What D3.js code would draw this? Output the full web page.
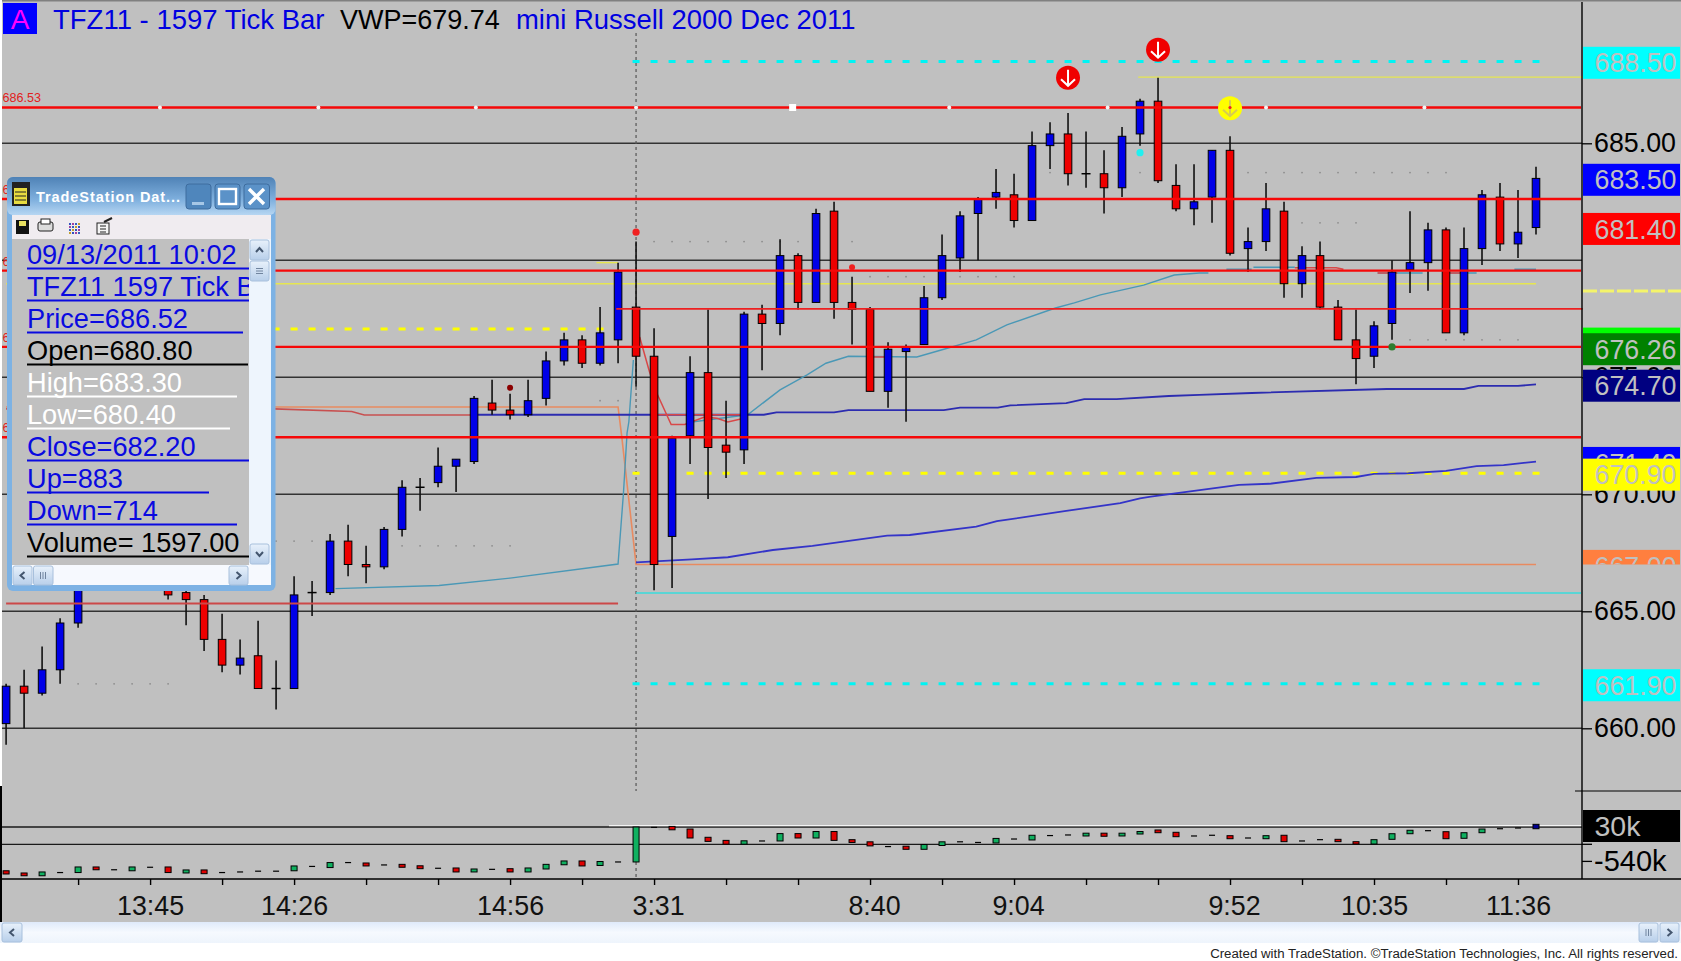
<!DOCTYPE html>
<html><head><meta charset="utf-8">
<script src="https://cdn.jsdelivr.net/npm/d3@7/dist/d3.min.js"></script>
<style>html,body{margin:0;padding:0;background:#fff;overflow:hidden}svg{display:block}text{font-family:"Liberation Sans",Arial,sans-serif}</style>
</head><body><div id="chart"></div>
<script>
// ---- price bars ----
const opens=[660.2,661.8,661.5,662.5,664.5,666.5,667.3,667,667.4,666.2,665.8,665.5,663.8,662.7,663.1,661.7,661.7,665.8,665.8,668,667,666.9,668.5,670.3,670.5,671.2,671.4,673.9,673.6,673.4,674.1,675.7,676.6,675.6,676.6,678,675.9,668.2,672.5,675.2,672.1,671.9,677.7,677.3,680.2,678.2,682.1,678.2,677.9,674.4,676.1,676.4,678.4,680.1,682,682.7,682.8,681.7,684.9,685.4,683.7,683.7,683.1,685.4,686.8,683.2,682.2,682.7,684.7,680.5,680.8,682.1,679,680.2,678,676.6,675.9,677.3,679.6,679.9,681.3,676.9,680.5,682.7,680.7,681.4];
const closes=[661.8,661.5,662.5,664.5,666.5,667.3,667,667.4,666.9,665.7,665.5,663.8,662.7,663,661.7,661.7,665.7,665.8,668,667,666.9,668.5,670.3,670.3,671.2,671.5,674.1,673.6,673.4,674,675.7,676.6,675.6,676.9,679.5,675.9,667,672.4,675.2,672,671.8,677.7,677.3,680.2,678.2,682,678.2,677.9,674.4,676.2,676.3,678.4,680.2,681.9,682.6,682.9,681.7,684.9,685.4,683.7,683.7,683.1,685.3,686.8,683.4,682.2,682.5,684.7,680.3,680.8,682.2,679,680.2,678,676.6,675.8,677.2,679.5,679.9,681.3,676.9,680.5,682.8,680.7,681.2,683.5];
const highs=[661.9,662.5,663.5,664.7,666.6,667.5,667.9,667.7,667.6,666.4,666,665.7,664.9,663.8,664.6,662.9,666.5,666.3,668.3,668.7,667.8,668.6,670.6,670.7,672,671.5,674.2,674.9,674.3,674.9,676.1,676.9,676.8,678,679.9,680.8,677.1,672.5,675.9,677.9,674,677.8,678.1,680.9,680.3,682.2,682.5,679.3,678,676.5,676.4,678.9,681.1,682.1,682.7,683.9,683.7,685.5,685.9,686.3,685.5,684.7,685.7,686.9,687.8,684.1,684.1,684.7,685.3,681.4,683.3,682.5,680.6,680.8,678.3,677.9,677.4,680,682.1,681.6,681.4,681.4,683,683.3,683,684];
const lows=[659.3,660,661.4,661.9,664.3,666.3,665.9,666.5,666.5,665.5,664.4,663.3,662.4,662.3,661.7,660.8,661.7,664.8,665.7,666.5,666.2,666.8,668.2,669.3,670.3,670.1,671.3,673.4,673.2,673.3,673.8,675.5,675.4,675.5,675.6,674.6,665.9,666,671.3,669.8,670.7,671.3,675.3,676.8,677.9,678.2,677.5,676.4,674.4,673.7,673.1,676.4,678.3,679.5,680,682.2,681.4,681.7,683.9,683.2,683.1,682,682.7,684.9,683.3,682.1,681.5,681.6,680.2,679.5,680.4,678.4,678.4,677.9,676.6,674.7,675.4,676.6,678.6,678.7,676.9,676.8,679.8,680.4,680.1,681.1];
// ---- lower panel (value in k) ----
const subTop=[-706,-743,-726,-736,-642,-642,-689,-642,-647,-642,-692,-692,-736,-726,-713,-713,-625,-633,-568,-568,-575,-608,-598,-622,-664,-659,-676,-682,-671,-659,-598,-541,-541,-550,-558,30,23,40,-4,-143,-195,-202,-205,-81,-81,-46,-46,-183,-219,-299,-293,-264,-219,-219,-230,-162,-172,-109,-114,-104,-74,-74,-74,-46,-20,-59,-121,-109,-116,-155,-116,-109,-205,-183,-177,-217,-183,-83,-25,-32,-49,-66,-4,1,13,75];
const subBot=[-760,-790,-790,-736,-736,-689,-689,-706,-647,-736,-743,-755,-736,-726,-713,-713,-706,-633,-652,-568,-625,-608,-647,-671,-664,-726,-726,-682,-726,-726,-676,-605,-625,-617,-558,-558,23,-17,-155,-212,-259,-259,-205,-205,-155,-155,-195,-230,-288,-299,-345,-345,-281,-219,-230,-239,-172,-188,-114,-104,-121,-126,-121,-88,-66,-133,-121,-109,-167,-155,-167,-217,-205,-183,-217,-256,-256,-177,-83,-32,-167,-160,-66,1,13,1];
const subKind="rrgkgrkgkrgrkkkkgkgkrkrrkrgkrgggrgkgkrrrrgkgrgrrrkrggkkgkgkkgrggrrkkrkgrkkrrgggkrggkkb".split("");
const subLevels=[30,-261];
const subTicks=[-540];
// ---- axes ----
const priceGrid=[685,680,675,670,665,660];
const priceTicks=[685,675,670,665,660];
const timeTicks=[4,8,12,16,20,24,28,32,36,40,44,48,52,56,60,64,68,72,76,80,84];
const timeLabels={8:"13:45",16:"14:26",28:"14:56",36:"3:31",48:"8:40",56:"9:04",68:"9:52",76:"10:35",84:"11:36"};
// ---- horizontal levels ----
const heavyRed=[686.53,682.62,679.56,676.3,672.44];
const heavyLabels=["686.53","682.62","679.56","676.30","672.44"];
const whiteDotIdx=[8.55,17.35,26.1,35,43.7,52.4,61.2,70,78.8];
const thinRed=[[33.9,87.6,677.92]];
const oldRed=[[0,34,665.33]];
const yellowSolid=[[0,85,679],[32.8,34,679.9],[62.9,87.6,687.83]];
const cyanSolid=[[35,87.5,665.78]];
const yellowDash=[[15,34,677.06],[35,85,670.9]];
const cyanDash=[[35,85,688.5],[35,85,661.9]];
// ---- curves: [bar index, price]; NaN marks a gap ----
const navyIdx=[26.2,42.1,42.8,46,46.8,52.1,53,55.1,55.8,58.9,59.9,61.7,64.6,66.3,69.2,76.7,81,81.8,84,85];
const navyVal=[673.4,673.4,673.5,673.5,673.6,673.6,673.7,673.7,673.8,673.9,674.07,674.07,674.2,674.25,674.33,674.5,674.5,674.63,674.63,674.7];
const lowerIdx=[35,38.1,40.1,42.6,44.8,48.95,50.2,53.9,55.05,58.9,61.9,63,63.6,66,68.5,70.2,72.8,75,76,77.9,80,81.7,83.2,85];
const lowerVal=[667.09,667.22,667.31,667.62,667.8,668.23,668.26,668.62,668.85,669.29,669.62,669.83,669.9,670.15,670.4,670.45,670.7,670.74,670.87,670.9,671,671.2,671.25,671.4];
const tealIdx=[18.3,24.05,28,34,34.3,34.5,34.6,34.85,NaN,38.2,41.2,43,44.5,45.55,46.8,50.6,52.1,53.9,55.6,58.3,59.35,60.8,63.2,64.9,66.3,66.8,NaN,67.8,69.2,NaN,69.3,71.6,NaN,76.2,78.7,NaN,80.2,81.7,NaN,83.8,85];
const tealVal=[665.97,666.1,666.42,667.02,670.05,672.62,673.1,675.74,NaN,673.1,673.4,674.46,675.1,675.6,675.9,675.87,676.2,676.6,677.24,677.96,678.18,678.52,678.94,679.37,679.46,679.46,NaN,679.62,679.62,NaN,679.7,679.7,NaN,679.46,679.46,NaN,679.46,679.46,NaN,679.62,679.62];
const redCurveIdx=[35.2,35.75,36.2,36.95,37.7,38.8,39.5,40.1,41,NaN,36.2,41,NaN,47.9,48.9,NaN,71.6,73.9,74.3,NaN,76.2,77.3,NaN,80.2,80.9];
const redCurveVal=[676.72,675.23,674.24,672.98,672.98,673.3,673.25,673.09,673.25,NaN,673.4,673.4,NaN,675.87,675.87,NaN,679.68,679.68,679.62,NaN,679.46,679.46,NaN,679.46,679.46];
const oldRedCurveIdx=[0,14.9,19.2,19.9,26.2];
const oldRedCurveVal=[673.65,673.65,673.54,673.39,673.39];
const orangeIdx=[0,34,34.2,35,85];
const orangeVal=[673.73,673.73,672.5,667,667];
// ---- dotted rows: [from bar, to bar, price] ----
const dotRows=[[14,17,668],[22,28,667.8],[4,9,661.9],[33,35,674],[36,47,680.8],[48,56,679.3],[58,58,683.75],[63,63,683.75],[69,80,683.75],[71,75,681.6],[78,84,676.6]];
// ---- markers: bar index and price ----
const downArrows=[[59,687.8,"#f00000","#ffffff"],[64,689,"#f00000","#ffffff"],[68,686.5,"#ffff00","#d8cc50"]];
const dots=[[35,681.2,3.6,"#f02020"],[28,674.55,3,"#8b0000"],[47,679.7,3,"#f02020"],[63,684.6,3.6,"#20f0f0"],[77,676.3,3.6,"#2e7d2e"]];
const topDots=[[68,686.53,1.6,"#f02020"]];
// ---- right-hand price flags (value, fill) ----
const flagVal=[688.5,683.5,681.4,676.5,676.26,674.7,671.4,670.9,661.9];
const flagFill=["#00ffff","#0000ff","#ff0000","#00ff00","#008000","#000080","#0000ff","#ffff00","#00ffff"];
// ---- data window rows ----
const rowText=["09/13/2011 10:02","TFZ11 1597 Tick Bar","Price=686.52","Open=680.80","High=683.30","Low=680.40","Close=682.20","Up=883","Down=714","Volume=  1597.00"];
const rowColor=["#0a0ae0","#0a0ae0","#0a0ae0","#000","#fff","#fff","#0a0ae0","#0a0ae0","#0a0ae0","#000"];
const rowRule=[222,222,216,221,210,203,222,182,210,222];

const W=1681,H=961,axisX=1582;
const x=d3.scaleLinear().domain([0,85]).range([6.1,1536]);
const y=d3.scaleLinear().domain([685,660]).range([143.3,728.3]);
const ys=d3.scaleLinear().domain([30,-540]).range([827,860.9]);
const svg=d3.select("#chart").append("svg").attr("width",W).attr("height",H).attr("viewBox",[0,0,W,H]);
const defs=svg.append("defs");
function grad(id,stops){const g=defs.append("linearGradient").attr("id",id).attr("x1",0).attr("x2",0).attr("y1",0).attr("y2",1);
 stops.forEach(s=>g.append("stop").attr("offset",s[0]).attr("stop-color",s[1]));}
grad("bar",[[0,"#dfeafa"],[.5,"#f6f9fe"],[1,"#eef4fc"]]);
grad("ttl",[[0,"#4f82b6"],[.6,"#7fb0de"],[1,"#b6d6f2"]]);
grad("btn",[[0,"#e8f1fb"],[1,"#b8cfea"]]);
defs.append("clipPath").attr("id","rowClip").append("rect").attr("x",18).attr("y",240).attr("width",231).attr("height",324);
defs.append("clipPath").attr("id","orClip").append("rect").attr("x",axisX).attr("y",545).attr("width",100).attr("height",19.5);
const lineGen=d3.line().defined(d=>!isNaN(d[0])).x(d=>x(d[0])).y(d=>y(d[1]));
const ln=(a,b)=>lineGen(a.map((v,i)=>[v,b[i]]));

svg.append("rect").attr("width",W).attr("height",H).attr("fill","#fff");
svg.append("rect").attr("x",2).attr("y",0).attr("width",W-2).attr("height",922).attr("fill","#c0c0c0");
svg.append("rect").attr("x",2).attr("y",0).attr("width",W-2).attr("height",1.5).attr("fill","#808080");
svg.append("rect").attr("x",0).attr("y",786).attr("width",2).attr("height",136).attr("fill","#000");

// grid
svg.append("g").selectAll("line").data(priceGrid).join("line").attr("x1",2).attr("x2",axisX).attr("y1",d=>y(d)).attr("y2",d=>y(d)).attr("stroke","#333").attr("stroke-width",1.5);
svg.append("g").selectAll("line").data(subLevels).join("line").attr("x1",2).attr("x2",axisX).attr("y1",d=>ys(d)).attr("y2",d=>ys(d)).attr("stroke","#1a1a1a").attr("stroke-width",1.3);
svg.append("line").attr("x1",x(33.5)).attr("x2",axisX).attr("y1",ys(30)-1.4).attr("y2",ys(30)-1.4).attr("stroke","#f4f4f4").attr("stroke-width",1.3);

// session divider
const divider=svg.append("g").attr("stroke","#555").attr("stroke-width",1.2).attr("stroke-dasharray","3 3");
divider.append("line").attr("x1",x(35)).attr("x2",x(35)).attr("y1",33).attr("y2",791);
divider.append("line").attr("x1",x(35)).attr("x2",x(35)).attr("y1",862).attr("y2",879);

// thin levels and curves under bars
function seg(arr,color,w,dash){svg.append("g").selectAll("line").data(arr).join("line")
 .attr("x1",d=>x(d[0])-(dash?3.5:0)).attr("x2",d=>x(d[1])+(dash?3.5:0)).attr("y1",d=>y(d[2])).attr("y2",d=>y(d[2]))
 .attr("stroke",color).attr("stroke-width",w).attr("stroke-dasharray",dash||null);}
seg(yellowSolid,"#e6e650",1.4);
seg(cyanSolid,"#38dcdc",1.6);
seg(yellowDash,"#ffff00",3,"7 11");
seg(cyanDash,"#00f4f4",3,"7 11");
function curve(a,b,color,w){svg.append("path").attr("d",ln(a,b)).attr("fill","none").attr("stroke",color).attr("stroke-width",w);}
curve(oldRedCurveIdx,oldRedCurveVal,"#c85050",1.6);
curve(orangeIdx,orangeVal,"#e88a60",1.6);
curve(tealIdx,tealVal,"#4a98b6",1.4);
curve(navyIdx,navyVal,"#2c2cb0",1.8);
curve(lowerIdx,lowerVal,"#3434c8",1.8);
curve(redCurveIdx,redCurveVal,"#d84848",1.5);

// grey dots
const dotData=dotRows.flatMap(r=>d3.range(r[0],r[1]+1).map(i=>[i,r[2]]));
svg.append("g").selectAll("circle").data(dotData).join("circle").attr("cx",d=>x(d[0])).attr("cy",d=>y(d[1])).attr("r",.9).attr("fill","#8c8c8c");

// candles
const idx=d3.range(opens.length);
const cg=svg.append("g");
cg.selectAll("line.w").data(idx).join("line").attr("class","w").attr("x1",i=>x(i)).attr("x2",i=>x(i)).attr("y1",i=>y(highs[i])).attr("y2",i=>y(lows[i])).attr("stroke","#111").attr("stroke-width",1.6);
cg.selectAll("rect").data(idx.filter(i=>opens[i]!==closes[i])).join("rect")
 .attr("x",i=>x(i)-3.8).attr("width",7.6)
 .attr("y",i=>y(Math.max(opens[i],closes[i]))).attr("height",i=>Math.abs(y(opens[i])-y(closes[i])))
 .attr("fill",i=>closes[i]>opens[i]?"#0000e8":"#ee0000").attr("stroke","#000").attr("stroke-width",1);
cg.selectAll("line.d").data(idx.filter(i=>opens[i]===closes[i])).join("line").attr("class","d")
 .attr("x1",i=>x(i)-4.5).attr("x2",i=>x(i)+4.5).attr("y1",i=>y(opens[i])).attr("y2",i=>y(opens[i])).attr("stroke","#000").attr("stroke-width",1.5);

// red levels above bars
svg.append("g").selectAll("line").data(heavyRed).join("line").attr("x1",2).attr("x2",axisX-1).attr("y1",d=>y(d)).attr("y2",d=>y(d)).attr("stroke","#f60808").attr("stroke-width",2.4);
seg(thinRed,"#ee2020",1.7);
seg(oldRed,"#cc4848",2);
svg.append("g").selectAll("text").data(heavyRed).join("text").attr("x",2.5).attr("y",d=>y(d)-5).attr("font-size",12.6).attr("fill","#e02020").text((d,i)=>heavyLabels[i]);
svg.append("g").selectAll("circle").data(whiteDotIdx).join("circle").attr("cx",d=>x(d)).attr("cy",y(686.53)).attr("r",d=>d===43.7?0:2).attr("fill","#f4f4f4");
svg.selectAll("rect.sq").data(whiteDotIdx.filter(d=>d===43.7)).join("rect").attr("class","sq").attr("x",d=>x(d)-3.5).attr("y",y(686.53)-3.5).attr("width",7).attr("height",7).attr("fill","#fff");

// markers
svg.append("g").selectAll("circle").data(dots).join("circle").attr("cx",d=>x(d[0])).attr("cy",d=>y(d[1])).attr("r",d=>d[2]).attr("fill",d=>d[3]);
const ag=svg.append("g").selectAll("g").data(downArrows).join("g").attr("transform",d=>`translate(${x(d[0])},${y(d[1])})`);
ag.append("circle").attr("r",12).attr("fill",d=>d[2]);
ag.append("path").attr("d","M0,-8V7.5M-7,1.5L0,8L7,1.5").attr("fill","none").attr("stroke",d=>d[3]).attr("stroke-width",2);
svg.append("g").selectAll("circle").data(topDots).join("circle").attr("cx",d=>x(d[0])).attr("cy",d=>y(d[1])).attr("r",d=>d[2]).attr("fill",d=>d[3]);

// lower panel
const kc={g:"#10b060",r:"#e00000",k:"#000",b:"#000090"};
const sg=svg.append("g");
sg.selectAll("rect").data(idx).join("rect")
 .attr("x",i=>x(i)-3).attr("width",6)
 .attr("y",i=>ys(subTop[i])-(subTop[i]===subBot[i]?.6:0))
 .attr("height",i=>Math.max(1.2,ys(subBot[i])-ys(subTop[i])))
 .attr("fill",i=>kc[subKind[i]]).attr("stroke",i=>subTop[i]===subBot[i]?"none":"#000").attr("stroke-width",1);

// axes
svg.append("line").attr("x1",axisX).attr("x2",axisX).attr("y1",2).attr("y2",879).attr("stroke","#000").attr("stroke-width",1.4);
svg.append("line").attr("x1",2).attr("x2",W).attr("y1",879).attr("y2",879).attr("stroke","#000").attr("stroke-width",1.4);
svg.append("line").attr("x1",1575).attr("x2",W).attr("y1",791).attr("y2",791).attr("stroke","#000").attr("stroke-width",1.2);
const xAxis=d3.axisBottom(x).tickValues(timeTicks).tickSize(6).tickPadding(11).tickFormat(d=>timeLabels[d]||"");
const gx=svg.append("g").attr("transform","translate(0,879)").call(xAxis);
gx.select(".domain").remove();
gx.selectAll("line").attr("stroke","#000").attr("stroke-width",1.4);
gx.selectAll("text").attr("font-size",26.8).attr("fill","#111").attr("font-family",'"Liberation Sans",Arial,sans-serif').attr("dx",d=>(timeLabels[d]||"").length===4?4:0);
const yAxis=d3.axisRight(y).tickValues(priceTicks).tickSize(10).tickPadding(2).tickFormat(d3.format(".2f"));
const gy=svg.append("g").attr("transform",`translate(${axisX},0)`).call(yAxis);
gy.select(".domain").remove();
gy.selectAll("line").attr("stroke","#000").attr("stroke-width",1.3);
gy.selectAll("text").attr("font-size",26.8).attr("fill","#000").attr("font-family",'"Liberation Sans",Arial,sans-serif');
const ySub=d3.axisRight(ys).tickValues(subTicks).tickSize(10).tickPadding(2).tickFormat(d=>d+"k");
const gs=svg.append("g").attr("transform",`translate(${axisX},0)`).call(ySub);
gs.select(".domain").remove();
gs.selectAll("line").attr("stroke","#000").attr("stroke-width",1.3);
gs.selectAll("text").attr("font-size",29).attr("fill","#000").attr("font-family",'"Liberation Sans",Arial,sans-serif');
svg.append("line").attr("x1",axisX).attr("x2",axisX+10).attr("y1",ys(-261)).attr("y2",ys(-261)).attr("stroke","#000").attr("stroke-width",1.3);

// flags
function flag(val,fill,label,clip){const g=svg.append("g").attr("clip-path",clip||null);
 g.append("rect").attr("x",axisX+1).attr("y",y(val)-14.6).attr("width",W-axisX-2).attr("height",32).attr("fill",fill);
 g.append("text").attr("x",axisX+12.5).attr("y",y(val)+11).attr("font-size",26.8).attr("fill","#c0c0c0").text(label);}
flag(667,"#ff7f3f","667.00","url(#orClip)");
flagVal.forEach((v,i)=>flag(v,flagFill[i],d3.format(".2f")(v)));
const yellowAxisDash=678.69;
svg.append("line").attr("x1",axisX+1).attr("x2",W).attr("y1",y(yellowAxisDash)).attr("y2",y(yellowAxisDash)).attr("stroke","#f4f46a").attr("stroke-width",3).attr("stroke-dasharray","14 3");
svg.append("rect").attr("x",axisX+1).attr("y",ys(30)-17).attr("width",W-axisX-2).attr("height",32).attr("fill","#000");
svg.append("text").attr("x",axisX+12.5).attr("y",ys(30)+8.5).attr("font-size",28.5).attr("fill","#c0c0c0").text("30k");

// header
svg.append("rect").attr("x",3).attr("y",3).attr("width",34).attr("height",31).attr("fill","#0000ff");
svg.append("text").attr("x",20).attr("y",29).attr("text-anchor","middle").attr("font-size",28).attr("fill","#ff00ff").text("A");
const head=[[53,"TFZ11 - 1597 Tick Bar","#0000e0",27.5],[340,"VWP=679.74","#000",27],[516,"mini Russell 2000 Dec 2011","#0000e0",27.45]];
svg.append("g").selectAll("text").data(head).join("text").attr("x",d=>d[0]).attr("y",29).attr("font-size",d=>d[3]).attr("fill",d=>d[2]).text(d=>d[1]);

// bottom scrollbar & footer
svg.append("rect").attr("x",0).attr("y",922).attr("width",W).attr("height",21).attr("fill","url(#bar)");
function btn(px,py,w,h){return svg.append("rect").attr("x",px).attr("y",py).attr("width",w).attr("height",h).attr("rx",2).attr("fill","url(#btn)").attr("stroke","#a8c0dc");}
function chev(cx,cy,dx,dy){svg.append("path").attr("d",`M${cx-dy*3.5-dx*2},${cy-dx*3.5-dy*2}L${cx+dx*2},${cy+dy*2}L${cx+dy*3.5-dx*2},${cy+dx*3.5-dy*2}`).attr("fill","none").attr("stroke","#44566e").attr("stroke-width",2);}
function grip(cx,cy,vertical){for(let k=-1;k<=1;k++){svg.append("line").attr("x1",cx+(vertical?-3.5:k*2.5)).attr("x2",cx+(vertical?3.5:k*2.5)).attr("y1",cy+(vertical?k*2.5:-3.5)).attr("y2",cy+(vertical?k*2.5:3.5)).attr("stroke","#70849e");}}
btn(2,923,20,19);chev(12,932.5,-1,0);
btn(1639,923,19,19);grip(1648.5,932.5,false);
btn(1660,923,19,19);chev(1669.5,932.5,1,0);
svg.append("text").attr("x",1678).attr("y",958).attr("text-anchor","end").attr("font-size",13.25).attr("fill","#222").text("Created with TradeStation. ©TradeStation Technologies, Inc. All rights reserved.");

// data window
const win=svg.append("g");
win.append("rect").attr("x",7).attr("y",177).attr("width",268.5).attr("height",414).attr("rx",6).attr("fill","#7db2e4");
win.append("rect").attr("x",7).attr("y",177).attr("width",268.5).attr("height",38).attr("rx",6).attr("fill","url(#ttl)");
win.append("rect").attr("x",12).attr("y",215).attr("width",259).attr("height",24).attr("fill","#f0ecf0");
win.append("rect").attr("x",12).attr("y",239).attr("width",259).attr("height",346).attr("fill","#c0c0c0");
win.append("rect").attr("x",249).attr("y",239).attr("width",22).attr("height",326).attr("fill","#eef5fd");
win.append("rect").attr("x",12).attr("y",565).attr("width",259).attr("height",20).attr("fill","#f6f9fe");
win.append("text").attr("x",36).attr("y",202).attr("font-size",14.5).attr("font-weight","bold").attr("fill","#fff").attr("textLength",144).text("TradeStation Dat...");
// title icons
win.append("rect").attr("x",12).attr("y",182).attr("width",18).attr("height",24).attr("fill","#222");
win.append("rect").attr("x",14).attr("y",188).attr("width",13).attr("height",16).attr("fill","#e8dc40");
d3.range(3).forEach(k=>win.append("line").attr("x1",15).attr("x2",26).attr("y1",192+k*4).attr("y2",192+k*4).attr("stroke","#222"));
[[186,211,"#4f86bc"],[215,240,"#5b92c8"],[244,269.5,"#5b92c8"]].forEach(b=>{
 win.append("rect").attr("x",b[0]).attr("y",184).attr("width",b[1]-b[0]).attr("height",25).attr("rx",3).attr("fill",b[2]).attr("stroke","#3e6c9e");});
win.append("rect").attr("x",192).attr("y",202).attr("width",12).attr("height",3).attr("fill","#a6c7e6");
win.append("rect").attr("x",219).attr("y",189).attr("width",17).attr("height",15).attr("fill","none").attr("stroke","#fff").attr("stroke-width",2.4);
win.append("path").attr("d","M249,189L264,204M264,189L249,204").attr("stroke","#fff").attr("stroke-width",3.4);
// toolbar icons
win.append("rect").attr("x",16).attr("y",220).attr("width",13).attr("height",14).attr("fill","#111");
win.append("rect").attr("x",19).attr("y",221).attr("width",7).attr("height",5).attr("fill","#e8e060");
win.append("rect").attr("x",38).attr("y",222).attr("width",15).attr("height",9).attr("rx",2).attr("fill","#dcdcdc").attr("stroke","#222");
win.append("rect").attr("x",41).attr("y",219).attr("width",9).attr("height",5).attr("fill","#fff").attr("stroke","#222");
d3.range(4).forEach(a=>d3.range(4).forEach(b=>win.append("rect").attr("x",69+a*3).attr("y",223+b*3).attr("width",2).attr("height",2).attr("fill",["#3050c0","#a040a0","#3060c0","#c0a030"][(a+b)%4])));
win.append("rect").attr("x",97).attr("y",223).attr("width",12).attr("height",11).attr("fill","#f4f4f4").attr("stroke","#222");
win.append("path").attr("d","M100,226h6M100,229h6M100,232h6").attr("stroke","#222");
win.append("path").attr("d","M104,222L112,218").attr("stroke","#222").attr("stroke-width",2);
// rows
const rows=win.append("g").attr("clip-path","url(#rowClip)");
const rowY=d3.scaleLinear().domain([0,9]).range([264,552]);
rows.selectAll("text").data(rowText).join("text").attr("x",27).attr("y",(d,i)=>rowY(i)).attr("font-size",27.2).attr("fill",(d,i)=>rowColor[i]).text(d=>d);
rows.selectAll("line").data(rowRule).join("line").attr("x1",27).attr("x2",d=>27+d).attr("y1",(d,i)=>rowY(i)+4.5).attr("y2",(d,i)=>rowY(i)+4.5).attr("stroke",(d,i)=>rowColor[i]).attr("stroke-width",2);
// window scrollbars
function wbtn(px,py,w,h){return win.append("rect").attr("x",px).attr("y",py).attr("width",w).attr("height",h).attr("rx",2).attr("fill","url(#btn)").attr("stroke","#a8c0dc");}
wbtn(250,240,19,20);chev(259.5,250,0,-1);
wbtn(250,261,19,20);grip(259.5,271,true);
wbtn(250,544,19,20);chev(259.5,554,0,1);
wbtn(13,566,19,19);chev(22.5,575.5,-1,0);
wbtn(33.5,566,19.5,19);grip(43,575.5,false);
wbtn(229,566,19,19);chev(238.5,575.5,1,0);
</script></body></html>
